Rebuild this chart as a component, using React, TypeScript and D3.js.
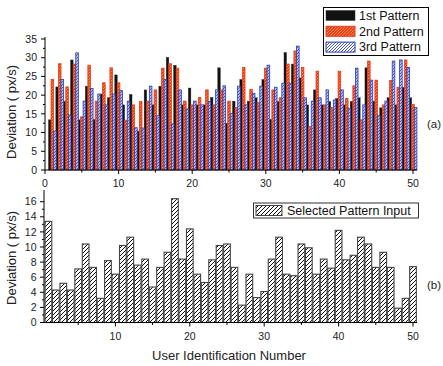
import React from "react";
import * as d3 from "d3";

const userIds = [1,2,3,4,5,6,7,8,9,10,11,12,13,14,15,16,17,18,19,20,21,22,23,24,25,26,27,28,29,30,31,32,33,34,35,36,37,38,39,40,41,42,43,44,45,46,47,48,49,50];
const seriesNames = ["1st Pattern", "2nd Pattern", "3rd Pattern"];
const pattern1 = [13.4,22.2,18.4,29.4,13.4,22.4,13.5,20.3,19.3,25.4,17.4,20.2,10.4,21.4,17.4,22.4,30.1,28.0,17.4,21.9,17.4,17.4,19.4,27.3,12.5,18.4,24.2,18.4,19.3,24.2,13.5,18.3,31.4,28.3,24.6,17.4,21.4,17.4,18.3,19.1,17.4,18.3,19.3,27.3,18.4,16.6,19.3,17.4,22.1,19.3];
const pattern2 = [24.2,28.4,22.2,28.3,14.2,28.0,18.4,23.3,27.3,23.3,13.3,17.4,18.3,18.4,21.4,27.2,28.4,27.2,18.4,17.4,19.4,21.4,17.4,21.4,18.4,16.7,27.4,21.5,18.0,27.2,21.4,19.3,28.3,31.8,27.4,11.6,26.4,17.4,16.7,26.4,19.1,22.5,13.4,29.1,24.0,17.4,23.9,22.1,29.4,17.5];
const pattern3 = [10.4,24.2,14.7,31.3,18.4,21.8,20.3,17.4,20.3,21.2,18.4,11.3,11.2,22.4,14.5,24.2,12.3,21.4,16.3,18.4,17.4,18.3,21.4,22.5,15.1,22.4,17.4,20.5,22.4,28.0,22.1,23.2,23.2,33.1,19.3,18.4,19.3,21.4,18.7,21.4,16.5,27.2,17.4,24.0,14.5,18.4,29.1,29.4,27.4,16.7];
const selectedInput = [13.4,4.3,5.2,4.3,7.1,10.4,7.3,3.2,8.2,6.4,10.2,11.3,7.6,8.4,4.7,7.3,9.3,16.4,8.4,12.4,6.4,5.3,8.3,10.2,10.4,7.3,2.3,6.4,3.3,4.1,8.4,11.3,6.4,6.2,10.4,9.9,6.4,8.4,7.2,12.2,8.3,8.9,11.3,10.4,7.3,9.3,7.3,1.9,3.2,7.4];

const topYTicks = [0, 5, 10, 15, 20, 25, 30, 35];
const topXTicks = [0, 10, 20, 30, 40, 50];
const botYTicks = [0, 2, 4, 6, 8, 10, 12, 14, 16];
const botXTicks = [10, 20, 30, 40, 50];

const FONT = "'Liberation Sans', Arial, sans-serif";
const barFills = ["#111111", "url(#hRed)", "url(#hBlueBar)"];
const legendFills = ["#111111", "url(#hRed)", "url(#hBlue)"];
const strokes = ["#333", "#e0401a", "#2a3cb4"];

export default function App() {
  const xTop = d3.scaleLinear().domain([0, 50]).range([45, 413]);
  const yTop = d3.scaleLinear().domain([0, 35]).range([170, 39]);
  const sub = d3.scaleBand<string>().domain(seriesNames).range([-3.9, 3.9]).paddingInner(0);
  const xBot = d3.scaleLinear().domain([0, 50]).range([41, 413]);
  const yBot = d3.scaleLinear().domain([0, 16]).range([322.5, 201.7]);
  const botBW = (xBot(1) - xBot(0)) * 0.9;
  const series = [pattern1, pattern2, pattern3];

  const topMinorY = d3.range(2.5, 35, 5);
  const topMinorX = d3.range(5, 50, 10);
  const botMinorY = d3.range(1, 17, 2);
  const botMinorX = d3.range(5, 50, 10);

  return (
    <svg width={443} height={366} style={{ position: "absolute", left: 0, top: 0, background: "#fff" }} fontFamily={FONT}>
      <defs>
        <pattern id="hRed" patternUnits="userSpaceOnUse" width="3" height="3">
          <rect width="3" height="3" fill="#e8401c" />
          <path d="M-1,1 l2,-2 M0,3 l3,-3 M2,4 l2,-2" stroke="#ff9050" strokeWidth="0.9" />
        </pattern>
        <pattern id="hBlue" patternUnits="userSpaceOnUse" width="3" height="3">
          <rect width="3" height="3" fill="#ffffff" />
          <path d="M-1,1 l2,-2 M0,3 l3,-3 M2,4 l2,-2" stroke="#3446b8" strokeWidth="0.9" />
        </pattern>
        <pattern id="hBlueBar" patternUnits="userSpaceOnUse" width="3" height="3">
          <rect width="3" height="3" fill="#b4bdee" />
          <path d="M-1,1 l2,-2 M0,3 l3,-3 M2,4 l2,-2" stroke="#3446b8" strokeWidth="0.8" />
        </pattern>
        <pattern id="hBlack" patternUnits="userSpaceOnUse" width="4" height="4">
          <rect width="4" height="4" fill="#ffffff" />
          <path d="M-1,1 l2,-2 M0,4 l4,-4 M3,5 l2,-2" stroke="#111" strokeWidth="1" />
        </pattern>
      </defs>

      {/* ===== Top panel (a) ===== */}
      {series.map((vals, si) =>
        vals.map((v, i) => {
          const cx = xTop(userIds[i]);
          const x0 = cx + (sub(seriesNames[si]) as number);
          return (
            <rect
              key={`t${si}-${i}`}
              x={x0}
              y={yTop(v)}
              width={sub.bandwidth()}
              height={yTop(0) - yTop(v)}
              fill={barFills[si]}
              stroke={strokes[si]}
              strokeWidth={si === 0 ? 0.4 : 0.8}
            />
          );
        })
      )}
      {/* top axes */}
      <line x1={45} x2={45} y1={37} y2={170} stroke="#000" strokeWidth={1} />
      <line x1={45} x2={417} y1={170} y2={170} stroke="#000" strokeWidth={1} />
      {topYTicks.map((t) => (
        <g key={`ty${t}`}>
          <line x1={41} x2={45} y1={yTop(t)} y2={yTop(t)} stroke="#000" />
          <text x={37} y={yTop(t)} dy="0.35em" textAnchor="end" fontSize={10.5} fill="#222">{t}</text>
        </g>
      ))}
      {topMinorY.map((t) => (
        <line key={`tmy${t}`} x1={43} x2={45} y1={yTop(t)} y2={yTop(t)} stroke="#000" />
      ))}
      {topXTicks.map((t) => (
        <g key={`tx${t}`}>
          <line x1={xTop(t)} x2={xTop(t)} y1={170} y2={174} stroke="#000" />
          <text x={xTop(t)} y={187} textAnchor="middle" fontSize={10.5} fill="#222">{t}</text>
        </g>
      ))}
      {topMinorX.map((t) => (
        <line key={`tmx${t}`} x1={xTop(t)} x2={xTop(t)} y1={170} y2={172.5} stroke="#000" />
      ))}
      <text transform="translate(15.5,112) rotate(-90)" textAnchor="middle" fontSize={13} fill="#222">Deviation ( px/s)</text>
      <text x={427} y={128} fontSize={11.5} fill="#222">(a)</text>

      {/* top legend */}
      <rect x={323.5} y={7.5} width={105} height={48} fill="#fff" stroke="#000" strokeWidth={1} />
      {seriesNames.map((s, i) => (
        <g key={`lg${s}`}>
          <rect x={326} y={10.5 + i * 15.8} width={29} height={10} fill={legendFills[i]} stroke={strokes[i]} strokeWidth={i === 0 ? 0.5 : 1} />
          <text x={359} y={19.8 + i * 15.8} fontSize={12.5} fill="#111">{s}</text>
        </g>
      ))}

      {/* ===== Bottom panel (b) ===== */}
      {selectedInput.map((v, i) => (
        <rect
          key={`b${i}`}
          x={xBot(userIds[i]) - botBW / 2}
          y={yBot(v)}
          width={botBW}
          height={yBot(0) - yBot(v)}
          fill="url(#hBlack)"
          stroke="#444"
          strokeWidth={1.1}
        />
      ))}
      <line x1={44} x2={44} y1={190} y2={322.5} stroke="#000" strokeWidth={1} />
      <line x1={44} x2={417} y1={322.5} y2={322.5} stroke="#000" strokeWidth={1} />
      {botYTicks.map((t) => (
        <g key={`by${t}`}>
          <line x1={40} x2={44} y1={yBot(t)} y2={yBot(t)} stroke="#000" />
          <text x={36.5} y={yBot(t)} dy="0.35em" textAnchor="end" fontSize={10.5} fill="#222">{t}</text>
        </g>
      ))}
      {botMinorY.map((t) => (
        <line key={`bmy${t}`} x1={42} x2={44} y1={yBot(t)} y2={yBot(t)} stroke="#000" />
      ))}
      {botXTicks.map((t) => (
        <g key={`bx${t}`}>
          <line x1={xBot(t)} x2={xBot(t)} y1={322.5} y2={326.5} stroke="#000" />
          <text x={xBot(t)} y={339.5} textAnchor="middle" fontSize={10.5} fill="#222">{t}</text>
        </g>
      ))}
      {botMinorX.map((t) => (
        <line key={`bmx${t}`} x1={xBot(t)} x2={xBot(t)} y1={322.5} y2={325} stroke="#000" />
      ))}
      <text transform="translate(15.5,258) rotate(-90)" textAnchor="middle" fontSize={13} fill="#222">Deviation ( px/s)</text>
      <text x={229} y={360} textAnchor="middle" fontSize={13} fill="#222">User Identification Number</text>
      <text x={427} y={289} fontSize={11.5} fill="#222">(b)</text>

      {/* bottom legend */}
      <rect x={253.5} y={203} width={165} height={15} fill="#fff" stroke="#333" strokeWidth={1} />
      <rect x={256} y={205.5} width={26} height={10} fill="url(#hBlack)" stroke="#444" strokeWidth={1} />
      <text x={287} y={215} fontSize={12.5} fill="#111">Selected Pattern Input</text>
    </svg>
  );
}
